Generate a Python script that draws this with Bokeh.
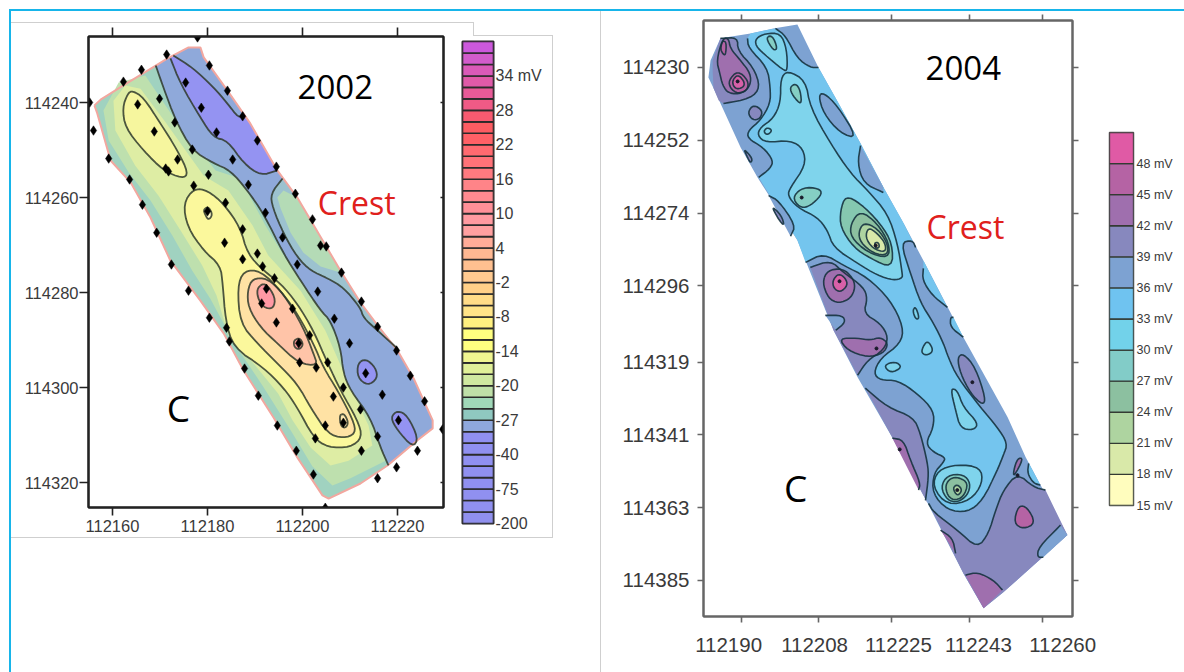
from bokeh.embed import file_html
from bokeh.resources import INLINE
from bokeh.plotting import figure
from bokeh.layouts import row, column
from bokeh.models import LinearAxis, FixedTicker, Range1d, Div
from bokeh.core.properties import value

# ---------- survey origin of each map (easting, northing) ----------
E02, N02 = 112160, 114240
E04, N04 = 112190, 114230

# ---------- tick values / labels ----------
x02_ticks = [112160, 112180, 112200, 112220]
y02_ticks = [114240, 114260, 114280, 114300, 114320]
x04_ticks = [112190, 112208, 112225, 112243, 112260]
y04_ticks = [114230, 114252, 114274, 114296, 114319, 114341, 114363, 114385]
x04_label_pos = [112187, 112207, 112226.5, 112245.1, 112264.7]

# ---------- colour bars ----------
bar02_labels = ["-200", "-75", "-40", "-27", "-20", "-14", "-8", "-2", "4", "10", "16", "22", "28", "34 mV"]
bar02_colors = ["#9090ee", "#9090f0", "#9090f0", "#9090f0", "#9090f0", "#9090f0", "#9090f0", "#9090f0",
                "#8fa8dc", "#8fc8c0", "#a0d8b8", "#bfe0a8", "#cfe8a0", "#e0f098", "#f0f590", "#ffff80",
                "#ffff80", "#fff080", "#ffe488", "#ffdc88", "#ffd088", "#ffca90", "#ffc090", "#ffb892",
                "#ffac98", "#ffa0a0", "#ff9aa0", "#ff9098", "#ff8a90", "#ff8488", "#ff7a80", "#ff7278",
                "#ff6a70", "#ff6066", "#fc5c62", "#f85a70", "#f05a86", "#e85a98", "#e05aa8", "#da5ab8",
                "#d25ccb", "#cc58dc"]
bar04_levels = [15, 18, 21, 24, 27, 30, 33, 36, 39, 42, 45, 48]
bar04_colors = ["#fffdbe", "#d9e9a9", "#aed4a0", "#8cc0a0", "#82ccc8", "#72d2ea",
                "#6fc3f0", "#7da2d2", "#8788be", "#9f6fae", "#b563a4", "#e05aa5"]

# ---------- 2002 map: offsets (east, south) from E02, N02 ----------
l_strip = [(-3.8,.6),(-2.5,-.6),(2.3,-3.6),(11.6,-9.3),(16.0,-11.6),(18.5,-11.6),(19.2,-9.5),(24.2,-2.5),(29.0,4.4),(34.7,14.3),(38.9,20.0),(48.0,35.4),(52.2,42.1),(55.8,46.9),(60.0,52.2),(63.4,58.1),(67.4,66.9),(67.4,68.6),(64.2,71.1),(57.9,76.4),(52.2,80.2),(45.5,83.4),(44.2,82.7),(38.9,74.7),(33.9,66.3),(27.6,56.4),(23.4,48.6),(18.5,41.7),(12.2,33.3),(8.0,24.2),(3.8,16.8),(-.4,12.2),(-3.2,2.3)]
l_g1 = [(1.3,-4.2),(6.9,-5.7),(13.3,3.8),(18.1,9.7),(21.7,14.3),(26.9,16.0),(32.2,25.9),(36.4,32.8),(42.7,40.6),(46.9,49.0),(51.2,59.6),(56.0,68.0),(57.5,75.4),(50.1,79.1),(46.3,80.6),(42.1,76.6),(37.5,69.0),(31.6,59.6),(26.9,52.6),(23.6,46.9),(20.6,41.3),(16.8,35.4),(12.6,28.0),(8.0,20.6),(3.4,14.7),(-.8,8.0),(-1.9,1.7)]
l_g2 = [(2.7,-3.6),(5.9,-2.9),(11.2,4.2),(15.4,10.1),(19.2,15.4),(24.4,18.5),(29.5,25.9),(32.8,32.2),(39.6,39.6),(44.8,48.0),(49.0,57.5),(53.9,68.0),(54.7,72.2),(49.7,75.4),(45.9,76.4),(41.7,72.6),(37.9,66.9),(34.9,61.3),(30.1,55.4),(24.4,49.0),(21.9,40.6),(18.9,34.3),(14.3,26.9),(9.7,19.6),(4.8,13.3),(.6,5.9),(.2,-.4)]
l_c1 = [(4.2,-2.5),(6.5,-1.1),(10.1,4.4),(13.7,10.1),(16.0,14.9),(14.7,16.0),(10.7,14.3),(6.5,10.1),(2.7,5.3),(2.1,1.1),(3.2,-1.9)]
l_c2 = [(17.1,18.1),(20.0,18.5),(23.4,21.3),(26.9,26.3),(28.4,31.8),(31.8,35.4),(35.4,38.1),(38.9,42.3),(42.3,48.0),(45.3,54.9),(48.0,60.6),(51.6,66.9),(52.6,70.5),(50.1,72.6),(45.3,72.6),(42.3,70.5),(38.9,64.2),(36.0,60.0),(31.8,55.8),(25.5,51.6),(23.8,45.9),(23.2,38.1),(22.7,34.3),(19.2,31.2),(15.8,26.3),(14.9,21.3)]
l_c3 = [(27.6,35.4),(31.2,35.4),(35.4,39.6),(38.9,44.4),(42.3,50.7),(44.4,55.8),(47.4,60.6),(50.7,66.9),(51.2,69.7),(48.6,70.7),(45.3,69.7),(41.7,64.2),(38.9,59.2),(34.7,54.9),(30.5,50.7),(26.9,46.5),(26.3,38.9)]
l_c4 = [(29.5,37.0),(32.6,37.0),(36.0,40.2),(40.2,47.4),(42.3,52.8),(43.2,55.4),(39.2,54.9),(34.7,50.7),(31.2,47.4),(28.6,43.2),(28.4,39.6)]
l_c5 = [(30.5,38.9),(32.2,37.9),(34.3,41.0),(33.9,43.4),(31.8,43.2),(30.5,41.0)]
l_r1 = [(19.2,22.5),(20.2,21.9),(21.1,23.6),(20.2,24.8),(19.4,23.4)]
l_r2 = [(38.1,50.1),(39.4,49.5),(40.2,50.9),(39.4,52.0),(38.3,51.6)]
l_r3 = [(47.8,65.7),(48.8,65.5),(49.7,67.4),(49.0,68.6),(48.0,68.0)]
l_blue = [(9.1,-7.8),(10.7,-3.2),(13.3,3.8),(16.8,10.1),(21.3,12.8),(24.8,14.3),(28.4,18.5),(31.8,23.4),(36.0,31.8),(39.6,37.5),(43.8,43.8),(45.9,45.9),(48.0,51.6),(48.6,57.0),(50.1,60.6),(54.3,66.3),(56.4,72.6),(58.1,76.4),(64.2,71.1),(67.4,68.6),(67.4,66.9),(63.4,58.1),(60.0,52.2),(55.8,46.9),(52.2,42.1),(48.0,35.4),(38.9,20.0),(34.7,14.3),(29.0,4.4),(24.2,-2.5),(19.2,-9.5),(18.5,-11.6),(16.0,-11.6),(11.6,-9.3)]
l_purple = [(12.8,-9.9),(16.8,-7.4),(21.3,-3.2),(24.2,.2),(26.5,3.2),(27.6,2.7),(29.0,4.4),(34.7,14.3),(31.2,15.4),(27.6,12.8),(24.2,8.0),(21.3,7.4),(18.5,3.2),(14.3,-4.0),(12.2,-9.3)]
l_lens = [(35.8,16.0),(33.3,19.2),(33.7,22.1),(36.0,27.6),(38.9,32.6),(41.7,35.4),(45.3,37.0),(48.6,38.9),(52.2,43.2),(52.8,45.3),(55.8,48.0),(60.0,51.8),(55.8,46.9),(52.2,42.1),(48.0,35.4),(38.9,20.0)]
l_lens_in = [(36.0,18.5),(34.7,20.0),(35.4,22.3),(37.5,27.4),(40.2,31.6),(43.8,34.5),(47.6,35.7),(48.0,35.4),(38.9,20.0)]
l_b1 = [(51.6,54.9),(53.3,53.9),(55.4,55.8),(55.8,58.1),(53.7,59.6),(51.6,57.9)]
l_b2 = [(58.5,66.3),(60.0,64.8),(62.1,65.9),(64.4,70.7),(63.2,72.6),(60.0,69.0)]
l_points = [(17.9,-13.7),(11.4,-10.1),(6.1,-6.9),(2.3,-4.4),(-4.8,0),(-4.0,5.9),(-.8,11.8),(3.6,16.2),(6.3,21.5),(9.3,27.4),(12.4,34.1),(16.0,39.6),(20.4,45.3),(24.0,47.4),(24.6,50.3),(27.8,56.0),(30.7,61.7),(34.7,68.0),(38.7,73.3),(42.3,78.3),(44.8,85.3),(20.4,-7.8),(24.2,-2.5),(27.4,2.9),(30.5,8.0),(34.5,13.5),(38.5,19.2),(42.1,24.6),(43.8,30.1),(45.0,30.3),(48.2,35.8),(52.4,41.9),(55.8,47.2),(59.8,52.2),(62.7,57.5),(65.7,62.9),(69.5,68.8),(15.4,-4.2),(18.7,1.1),(21.9,6.3),(25.3,12.0),(28.6,17.3),(32.2,23.2),(35.8,28.4),(38.9,34.1),(43.2,39.8),(46.7,45.5),(49.9,50.7),(53.3,57.0),(56.8,61.5),(60.2,66.9),(64.2,73.3),(9.9,-.8),(13.1,4.2),(16.8,9.9),(20.2,15.2),(23.8,21.1),(27.4,26.7),(30.5,31.8),(34.1,37.0),(37.9,43.4),(41.5,49.0),(45.3,54.7),(48.6,60.0),(52.2,64.6),(55.8,70.3),(59.8,76.8),(5.3,.4),(8.8,6.1),(13.7,12.0),(11.2,13.9),(11.8,14.5),(17.1,17.5),(20.0,22.9),(23.6,29.5),(27.4,33.0),(31.6,34.5),(32.4,39.2),(31.4,42.3),(34.5,46.3),(39.2,50.7),(42.9,55.8),(39.4,54.7),(46.5,61.9),(44.8,68.0),(48.6,67.4),(42.7,70.7),(52.4,73.3),(55.8,79.1)]

# ---------- 2004 map: offsets (east, south) from E04, N04 ----------
r_strip = [(-7.7,3.0),(-7.2,-2.1),(-4.9,-8.8),(2.1,-10.3),(7.4,-11.8),(13.0,-13.0),(17.9,0),(22.6,10.9),(27.7,23.0),(33.0,36.2),(37.7,47.1),(42.3,58.3),(51.6,81.5),(61.9,105.7),(66.1,117.8),(75.8,141.3),(60.9,158.6),(56.3,163.4),(51.6,152.8),(43.3,131.7),(35.4,112.6),(27.0,93.6),(21.4,79.4),(13.0,52.2),(3.7,33.2),(-.2,24.2),(-6.5,6.3)]
r_p39_top = [(-4.9,-8.8),(-.9,-9.1),(-.9,-5.1),(2.8,0),(4.4,6.0),(2.1,9.4),(-4.2,10.9),(-5.3,10.0),(-6.5,6.3),(-6.7,1.5),(-6.7,-2.1)]
r_p42_top = [(-4.4,-8.8),(-3.0,-8.8),(-2.6,-5.7),(-.2,-2.1),(2.1,1.8),(2.1,5.4),(.2,7.9),(-3.0,7.9),(-4.4,5.4),(-5.1,1.5),(-5.8,-2.1)]
r_p45_a = [(-4.4,-8.2),(-3.5,-7.6),(-3.7,-3.6),(-4.4,-4.2),(-4.9,-5.7)]
r_p45_b = [(-3.0,3.9),(-.9,.9),(1.6,3.9),(1.4,6.9),(-.9,7.9),(-2.6,6.3)]
r_p48_b = [(-2.1,3.9),(-.9,2.1),(.5,3.9),(.7,5.7),(-.9,6.6),(-1.9,5.7)]
r_blob_a = [(1.4,13.6),(2.8,11.2),(4.9,13.0),(4.4,15.4),(2.6,16.0)]
r_sliver = [(.5,24.5),(2.6,27.5),(2.1,29.0),(1.2,26.6)]
r_light = [(1.4,-8.8),(1.6,-6.0),(6.0,0),(6.7,6.0),(6.7,10.9),(4.4,16.0),(1.6,19.0),(1.4,21.4),(5.1,24.2),(7.4,28.1),(6.7,30.5),(4.0,33.2),(13.0,52.2),(14.9,58.9),(19.1,56.2),(23.7,59.8),(29.3,63.4),(34.7,70.4),(37.7,78.5),(37.0,83.4),(32.3,87.9),(30.7,92.4),(32.3,94.5),(36.3,94.5),(40.9,98.5),(44.7,103.6),(44.7,108.7),(42.8,113.6),(44.7,116.3),(47.4,117.8),(47.0,119.3),(44.7,122.6),(44.4,128.7),(47.9,133.8),(52.6,134.4),(56.1,130.8),(59.5,121.7),(60.9,117.2),(61.9,113.6),(59.5,108.7),(55.6,102.7),(50.2,93.6),(48.1,87.6),(47.0,83.4),(44.7,77.3),(41.6,71.0),(39.3,62.2),(37.0,52.9),(39.8,52.2),(40.5,54.4),(37.7,47.1),(33.0,36.2),(27.7,23.0),(22.6,10.9),(17.9,0),(16.0,0),(13.0,-2.7),(10.2,-9.7),(7.9,-11.8),(2.1,-10.3)]
r_center = [(10.7,.9),(9.1,3.3),(9.1,10.6),(7.4,15.4),(4.4,18.1),(3.7,20.5),(5.6,22.7),(11.4,22.0),(14.4,24.5),(14.9,29.6),(11.4,36.2),(10.7,38.7),(13.0,42.3),(17.7,45.3),(20.0,49.2),(21.4,54.4),(27.0,59.2),(31.6,62.8),(35.4,64.3),(37.4,63.7),(37.4,62.2),(36.3,53.2),(34.0,44.1),(29.3,37.1),(25.4,32.0),(20.7,23.0),(16.0,12.1),(14.9,3.9)]
r_tip = [(3.3,-8.8),(3.3,-6.6),(5.1,-4.2),(9.8,.9),(10.7,.9),(10.5,-5.7),(9.1,-10.3),(5.6,-10.3)]
r_tip_teal = [(5.6,-9.1),(7.2,-9.7),(8.4,-5.7),(7.4,-5.1)]
r_lens1 = [(17.9,8.5),(19.1,7.6),(22.3,11.5),(27.0,21.4),(23.0,19.9),(19.1,13.9)]
r_lens2 = [(27.7,23.6),(27.0,29.0),(28.4,35.0),(33.0,37.8),(33.0,36.2)]
r_pocket1 = [(42.3,60.7),(42.1,64.3),(44.4,68.9),(47.9,72.5),(42.3,58.3)]
r_pocket2 = [(49.3,75.5),(48.6,75.5),(48.6,78.5),(51.6,81.5)]
r_lobe = [(6.3,38.7),(8.6,40.2),(12.6,47.7),(11.4,51.0)]
r_lobe_in = [(6.9,41.7),(9.3,44.7),(10.0,48.0),(8.6,45.9)]
r_cy1 = [(48.6,96.9),(50.2,97.5),(51.6,102.7),(55.1,107.5),(54.0,109.6),(50.9,109.0),(49.8,103.6)]
r_cy2 = [(42.1,84.6),(43.3,82.4),(44.7,85.5),(43.3,87.0),(41.9,86.4)]
r_cy3 = [(33.0,90.0),(35.8,88.8),(37.4,90.6),(34.7,92.4)]
r_cy4 = [(39.8,73.4),(40.5,72.2),(41.4,75.8),(40.5,76.1)]
r_teal1 = [(11.2,6.0),(12.6,4.8),(13.7,6.9),(14.0,11.5),(11.9,8.5)]
r_ring = [(5.1,19.3),(6.0,18.1),(7.2,19.0),(6.0,20.5)]
r_teal2 = [(12.1,38.7),(14.4,36.2),(17.9,36.5),(18.8,38.1),(16.7,41.1),(14.4,42.6),(12.6,41.1)]
r_l1 = [(24.2,38.7),(23.0,43.2),(23.0,48.3),(26.1,54.4),(30.0,57.7),(35.1,60.7),(35.1,53.2),(32.3,47.1),(27.7,41.1)]
r_l2 = [(27.7,43.2),(25.4,47.1),(25.4,51.3),(29.3,55.9),(34.2,57.7),(34.4,53.2),(31.6,47.1)]
r_l3 = [(28.4,46.8),(27.2,49.8),(27.7,52.9),(30.7,56.2),(34.0,56.8),(34.0,53.2),(31.6,48.6)]
r_l4 = [(29.5,48.3),(28.8,51.3),(30.5,54.7),(33.5,55.9),(33.5,53.2),(31.6,50.1)]
r_l5 = [(30.9,52.9),(31.9,52.9),(32.1,54.4),(31.2,54.7)]
r_p39_mid = [(16.0,60.4),(20.7,58.3),(23.7,61.9),(28.4,66.4),(29.3,69.8),(28.4,74.3),(32.3,77.3),(34.2,81.5),(33.0,85.5),(29.3,88.5),(27.0,93.0),(21.4,79.4)]
r_pocket_blue = [(19.5,74.9),(23.5,74.9),(24.2,77.0),(21.9,79.4)]
r_p42_mid = [(18.8,64.9),(20.0,61.3),(23.5,60.7),(25.8,63.4),(26.5,66.4),(25.4,69.8),(22.6,71.3),(20.2,69.8)]
r_p45_mid = [(21.2,64.3),(22.6,62.2),(24.2,63.7),(24.7,65.8),(23.0,68.0),(21.4,66.7)]
r_p42_low = [(22.6,81.8),(27.0,81.8),(30.0,82.4),(32.3,81.5),(34.2,83.4),(33.0,86.4),(29.3,87.6),(24.7,85.5)]
r_lens_r = [(50.2,87.6),(51.6,86.4),(54.4,90.6),(56.8,100.0),(56.1,102.1),(53.3,98.5),(50.9,92.4)]
r_p39_ll = [(28.8,96.9),(34.0,102.7),(40.0,105.7),(41.6,110.5),(43.3,119.6),(43.5,123.8),(42.8,130.8),(43.3,131.7),(35.4,112.6)]
r_m_ll = [(35.1,112.0),(37.7,112.6),(39.3,118.7),(41.6,125.6),(41.2,127.7)]
r_p39_bot = [(43.5,131.7),(44.7,134.4),(50.2,139.8),(54.9,145.3),(57.5,140.7),(59.1,133.8),(60.9,127.7),(64.2,122.6),(67.9,126.8),(70.7,127.7),(75.8,141.3),(60.9,158.6),(56.3,163.4),(51.6,152.8)]
r_lens_br = [(74.2,138.3),(69.1,145.0),(68.8,148.0),(70.2,148.0),(75.8,141.3)]
r_p_small = [(63.3,121.7),(64.2,118.1),(65.6,118.1),(63.3,123.8)]
r_cy_right = [(66.8,119.6),(66.5,122.6),(67.9,125.6),(69.5,126.2),(66.1,117.8)]
r_tri = [(64.4,132.3),(66.5,132.9),(68.4,137.7),(65.6,139.5),(63.3,137.7)]
r_m_bot = [(52.1,153.4),(54.9,152.5),(58.6,154.9),(60.7,157.9),(56.3,163.4)]
r_m_small = [(46.3,139.8),(49.1,142.2),(49.8,146.8)]
r_b0 = [(44.4,126.8),(45.6,121.7),(50.2,119.9),(55.6,120.8),(56.1,125.6),(53.3,130.8),(47.9,132.3)]
r_b1 = [(46.3,126.8),(47.9,123.2),(51.6,122.9),(53.3,125.6),(52.6,129.3),(50.2,131.4),(47.9,130.8)]
r_b2 = [(47.4,126.2),(48.6,124.1),(50.5,123.8),(52.8,125.6),(51.6,129.9),(49.3,130.8),(47.9,129.3)]
r_b3 = [(49.1,127.1),(50.2,125.9),(51.4,127.7),(50.2,129.6)]
r_points = [(-.9,4.2),(14.0,39.3),(31.2,53.8),(22.8,64.6),(31.4,84.9),(53.7,95.1),(36.8,115.4),(50.2,127.7),(64.2,123.2)]


def chaikin(pts, closed, n=2):
    for _ in range(n):
        out = [] if closed else [pts[0]]
        m = len(pts) if closed else len(pts) - 1
        for i in range(m):
            a, b = pts[i], pts[(i + 1) % len(pts)]
            out.append((.75 * a[0] + .25 * b[0], .75 * a[1] + .25 * b[1]))
            out.append((.25 * a[0] + .75 * b[0], .25 * a[1] + .75 * b[1]))
        if not closed:
            out.append(pts[-1])
        pts = out
    return pts


class Map:
    def __init__(self, e0, n0):
        self.e0, self.n0 = e0, n0
        self.fx, self.fy, self.fc, self.lx, self.ly = [], [], [], [], []

    def add(self, pts, color, segs="closed"):
        """segs: 'closed' is a closed contour; a list of (a, b) marks contour stretches, the rest is strip edge."""
        if segs == "closed":
            poly = chaikin(pts, True)
            lines = [poly + poly[:1]]
        else:
            poly, lines, i = [], [], 0
            for a, b in segs:
                poly += pts[i:a]
                s = chaikin(pts[a:b], False)
                poly += s
                lines.append(s)
                i = b
            poly += pts[i:]
        if color:
            self.fx.append([self.e0 + p[0] for p in poly])
            self.fy.append([self.n0 + p[1] for p in poly])
            self.fc.append(color)
        for s in lines:
            self.lx.append([self.e0 + p[0] for p in s])
            self.ly.append([self.n0 + p[1] for p in s])


# 2002 layers
m02 = Map(E02, N02)
m02.add(l_strip, "#a0d2c0", [])
m02.add(l_g1, "#bee0ae", [])
m02.add(l_g2, "#deeda4", [])
m02.add(l_c1, "#f6f69e")
m02.add(l_c2, "#fbf89c")
m02.add(l_c3, "#ffe2a4")
m02.add(l_c4, "#ffc4a8")
m02.add(l_c5, "#ff98a4")
m02.add(l_r1, "#fffbc8")
m02.add(l_r2, "#ff9a9a")
m02.add(l_r3, "#ffe8b0")
m02.add(l_blue, "#8fa9da", [(0, 18)])
m02.add(l_purple, "#9493f2", [(0, 6), (7, 15)])
m02.add(l_lens, "#9cc2cf", [(0, 12)])
m02.add(l_lens_in, "#b4dbb6", [])
m02.add(l_b1, "#9493f2")
m02.add(l_b2, "#9493f2")

# 2004 layers
C_BLUE, C_LIGHT, C_CYAN, C_TEAL = "#7da2d2", "#74c5ee", "#7fd4ec", "#85cfc4"
C_P39, C_P42, C_P45, C_P48 = "#8788be", "#9f6fae", "#b563a4", "#d860a8"
m04 = Map(E04, N04)
m04.add(r_strip, C_BLUE, [])
m04.add(r_p39_top, C_P39, [(0, 7)])
m04.add(r_p42_top, C_P42)
m04.add(r_p45_a, C_P45)
m04.add(r_p45_b, C_P45)
m04.add(r_p48_b, C_P48)
m04.add(r_blob_a, C_P39)
m04.add(r_sliver, C_P39)
m04.add(r_p39_mid, C_P39, [(0, 11)])
m04.add(r_pocket_blue, C_BLUE, [(0, 4)])
m04.add(r_p42_mid, C_P42)
m04.add(r_p45_mid, C_P48)
m04.add(r_p42_low, C_P42)
m04.add(r_p39_ll, C_P39, [(0, 7)])
m04.add(r_m_ll, C_P42, [(0, 5)])
m04.add(r_p39_bot, C_P39, [(0, 10)])
m04.add(r_m_bot, C_P42, [(0, 4)])
m04.add(r_m_small, C_P42, [(0, 3)])
m04.add(r_tri, C_P45)
m04.add(r_lens_br, C_BLUE, [(0, 4)])
m04.add(r_p_small, C_P42)
m04.add(r_cy_right, C_LIGHT, [(0, 4)])
m04.add(r_light, C_LIGHT, [(0, 12), (13, 50), (54, 59)])
m04.add(r_center, C_CYAN)
m04.add(r_tip, C_CYAN)
m04.add(r_tip_teal, C_TEAL)
m04.add(r_lens1, C_BLUE)
m04.add(r_lens2, C_BLUE, [(0, 4)])
m04.add(r_pocket1, C_LIGHT, [(0, 4)])
m04.add(r_pocket2, C_LIGHT, [(0, 4)])
m04.add(r_lobe, C_BLUE, [(0, 4)])
m04.add(r_lobe_in, C_P39)
m04.add(r_lens_r, C_P39)
for poly, col in [(r_cy1, C_CYAN), (r_cy2, C_CYAN), (r_cy3, C_CYAN), (r_cy4, C_CYAN), (r_teal1, C_TEAL), (r_ring, C_CYAN),
                  (r_teal2, C_TEAL), (r_l1, "#85c8b0"), (r_l2, "#8cc0a0"), (r_l3, "#aed4a0"), (r_l4, "#d9e9a9"), (r_l5, "#c8c890"),
                  (r_b0, C_CYAN), (r_b1, C_TEAL), (r_b2, "#8cc0a0"), (r_b3, "#aed4a0")]:
    m04.add(poly, col)

FONT = "Liberation Sans"
TXT = "#3a3a3a"
H = 672
CY, GR = "#17b5ea", "#cfcfcf"
# thin page rules: left, top, width, height, colour
page_rules = [(9, 9, 2, 663, CY), (9, 9, 1175, 2, CY), (11, 22, 462, 1, GR), (473, 22, 1, 13, GR), (473, 35, 79, 1, GR),
              (552, 35, 1, 502, GR), (11, 537, 542, 1, GR), (600, 11, 1, 661, GR)]


def rule(l, t, w, h, c):
    return Div(text="", width=w, height=h, margin=0,
               styles={"position": "absolute", "left": f"{l}px", "top": f"{t}px", "width": f"{w}px", "height": f"{h}px",
                       "background": c, "z-index": "5"})


def axis_style(a, color, lw, size, ticks, blank=False, inn=0, out=8, standoff=2, labels=None):
    a.ticker = FixedTicker(ticks=ticks)
    a.axis_line_color = color
    a.axis_line_width = lw
    a.major_tick_line_color = color
    a.major_tick_line_width = lw if lw < 2 else 1.6
    a.major_tick_in = inn
    a.major_tick_out = out
    a.minor_tick_line_color = None
    a.major_label_standoff = standoff
    a.major_label_text_font = FONT
    a.major_label_text_font_size = size
    a.major_label_text_color = TXT
    if blank:
        a.major_label_overrides = {t: "" for t in ticks}
    else:
        a.major_label_overrides = dict(zip(ticks, labels if labels else [str(t) for t in ticks]))


# ---------- 2002 map ----------
pA = figure(width=455, height=H, toolbar_location=None, output_backend="svg",
            x_range=Range1d(112154.95, 112229.68), y_range=Range1d(114325.25, 114226.1),
            min_border_left=88, min_border_right=12, min_border_top=36, min_border_bottom=165,
            background_fill_color="white", border_fill_color="white", outline_line_color="black", outline_line_width=2)
pA.grid.visible = False
axis_style(pA.xaxis[0], "#222222", 2, "16.5px", x02_ticks, out=8, standoff=4)
axis_style(pA.yaxis[0], "#222222", 2, "16.5px", y02_ticks, out=9, standoff=1)
for side, ticks, out, inn in [("above", x02_ticks, 9, 0), ("right", y02_ticks, 0, 3)]:
    ax = LinearAxis()
    axis_style(ax, "#222222", 2, "15.5px", ticks, blank=True, out=out, inn=inn)
    pA.add_layout(ax, side)
pA.patches(m02.fx, m02.fy, fill_color=m02.fc, line_color=None)
pA.line([E02 + q[0] for q in l_strip + l_strip[:1]], [N02 + q[1] for q in l_strip + l_strip[:1]], line_color="#f2a79f", line_width=2)
pA.multi_line(m02.lx, m02.ly, line_color="#2f3a2c", line_width=1.8, line_alpha=.85)
pA.scatter([E02 + q[0] for q in l_points], [N02 + q[1] for q in l_points], marker="diamond", size=9.5, color="black", line_width=.5)
pA.text([E02 + 46.9], [N02 - 3.2], text=["2002"], text_font=value("Open Sans"), text_font_size="33px",
        text_align="center", text_baseline="middle", text_color="black")
pA.text([E02 + 51.4], [N02 + 21.05], text=["Crest"], text_font=value("Open Sans"), text_font_size="32px",
        text_align="center", text_baseline="middle", text_color="#e0201c")
pA.text([E02 + 13.9], [N02 + 64.2], text=["C"], text_font=value("Open Sans"), text_font_size="37px",
        text_align="center", text_baseline="middle", text_color="black")

# ---------- 2002 colour bar ----------
pB = figure(width=145, height=H, toolbar_location=None, output_backend="svg",
            x_range=Range1d(0, 1), y_range=Range1d(0, len(bar02_colors)),
            x_axis_location=None, y_axis_location=None,
            min_border_left=7, min_border_right=107, min_border_top=41, min_border_bottom=149,
            border_fill_color="white", outline_line_color="#222222", outline_line_width=2)
pB.grid.visible = False
pB.quad(left=0, right=1, bottom=list(range(len(bar02_colors))), top=[i + 1 for i in range(len(bar02_colors))],
        fill_color=bar02_colors, line_color="#2a2a2a", line_width=1.6)
axB = LinearAxis()
bar02_ticks = [3 * i for i in range(len(bar02_labels))]
axis_style(axB, None, 0, "16px", bar02_ticks, out=0, standoff=2, labels=bar02_labels)
axB.major_tick_line_color = None
pB.add_layout(axB, "right")

# ---------- 2004 map ----------
pC = figure(width=508, height=H, toolbar_location=None, output_backend="svg",
            x_range=Range1d(112181.16, 112266.99), y_range=Range1d(114395.9, 114215.8),
            min_border_left=103, min_border_right=36, min_border_top=20, min_border_bottom=56,
            border_fill_color="white", outline_line_color="#666666", outline_line_width=2)
pC.grid.visible = False
axis_style(pC.xaxis[0], "#666666", 2, "19px", x04_ticks, blank=True, out=6, standoff=0)
pC.xaxis[0].major_label_text_font_size = "1px"
axis_style(pC.yaxis[0], "#666666", 2, "20.5px", y04_ticks, out=6, standoff=8)
for side, ticks in [("above", x04_ticks), ("right", y04_ticks)]:
    ax = LinearAxis()
    axis_style(ax, "#666666", 2, "12px", ticks, blank=True, out=6)
    pC.add_layout(ax, side)
axL = LinearAxis()
axis_style(axL, None, 0, "20.5px", x04_label_pos, out=0, standoff=15, labels=[str(v) for v in x04_ticks])
axL.major_tick_line_color = None
pC.add_layout(axL, "below")
pC.patches(m04.fx, m04.fy, fill_color=m04.fc, line_color=None)
pC.multi_line(m04.lx, m04.ly, line_color="#16333f", line_width=1.6, line_alpha=.9)
pC.scatter([E04 + q[0] for q in r_points], [N04 + q[1] for q in r_points], marker="circle", size=3, color="#1a1a2a")
pC.text([E04 + 51.6], [N04 + .3], text=["2004"], text_font=value("Open Sans"), text_font_size="33px",
        text_align="center", text_baseline="middle", text_color="black")
pC.text([E04 + 52.1], [N04 + 48.0], text=["Crest"], text_font=value("Open Sans"), text_font_size="32px",
        text_align="center", text_baseline="middle", text_color="#e0201c")
pC.text([E04 + 12.6], [N04 + 126.9], text=["C"], text_font=value("Open Sans"), text_font_size="37px",
        text_align="center", text_baseline="middle", text_color="black")

# ---------- 2004 colour bar ----------
pD = figure(width=76, height=H, toolbar_location=None, output_backend="svg",
            x_range=Range1d(0, 1), y_range=Range1d(15, 51),
            x_axis_location=None, y_axis_location=None,
            min_border_left=1, min_border_right=51, min_border_top=132, min_border_bottom=167,
            border_fill_color="white", outline_line_color="#555555", outline_line_width=1.5)
pD.grid.visible = False
pD.quad(left=0, right=1, bottom=bar04_levels, top=[v + 3 for v in bar04_levels],
        fill_color=bar04_colors, line_color="#333a33", line_width=1.3)
axD = LinearAxis()
axis_style(axD, None, 0, "12.5px", bar04_levels, out=0, standoff=3, labels=[f"{v} mV" for v in bar04_levels])
axD.major_tick_line_color = None
pD.add_layout(axD, "right")

root = row(column(pA), column(pB), column(pC), column(pD), *[rule(*r) for r in page_rules], spacing=0)
open("out.html", "w").write(file_html(root, INLINE))
